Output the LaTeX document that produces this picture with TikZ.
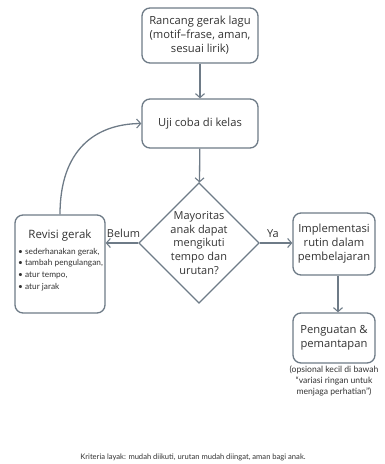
\documentclass[tikz,border=0pt]{standalone}
\usepackage{fontspec}
\setmainfont{Open Sans}
\newfontfamily\smallfont{Lato}
\usetikzlibrary{shapes.geometric,arrows.meta}
\definecolor{edge}{HTML}{6E7B87}
\definecolor{ink}{HTML}{333333}
\tikzset{
  box/.style={draw=edge,line width=1.3pt,rounded corners=8pt,fill=white,text=ink,align=center,inner sep=2pt,font=\fontsize{11.2}{14}\selectfont},
  conn/.style={draw=edge,line width=1.3pt,-{Straight Barb[length=4pt,width=9pt,line width=1.1pt]}},
  lbl/.style={text=ink,font=\fontsize{11}{13}\selectfont},
}
\begin{document}
\begin{tikzpicture}[x=1pt,y=-1pt]
\useasboundingbox (0,0) rectangle (385,464);
\node[box,minimum width=116pt,minimum height=55pt] (design) at (200,35.5) {Rancang gerak lagu\\(motif--frase, aman,\\sesuai lirik)};
\node[box,minimum width=116pt,minimum height=49pt] (trial) at (200,123.5) {Uji coba di kelas};
\node[draw=edge,line width=1.3pt,diamond,aspect=1,minimum width=118pt,minimum height=120pt,inner sep=0pt,text=ink,align=center,font=\fontsize{11}{13.8}\selectfont] (dec) at (199,243) {Mayoritas\\anak dapat\\mengikuti\\tempo dan\\urutan?};
\node[box,minimum width=90pt,minimum height=98pt] (rev) at (60,264) {};
\node[text=ink,font=\fontsize{11.5}{13}\selectfont] (revt) at (60,236) {Revisi gerak};
\node[text=ink,align=left,font=\smallfont\fontsize{8.3}{11.6}\selectfont,anchor=north west,inner sep=0pt] (revl) at (18,248) {• sederhanakan gerak,\\• tambah pengulangan,\\• atur tempo,\\• atur jarak};
\node[box,minimum width=82pt,minimum height=62pt] (impl) at (334,244) {Implementasi\\rutin dalam\\pembelajaran};
\node[box,minimum width=82pt,minimum height=50pt] (reinf) at (334,338) {Penguatan \&\\pemantapan};
\node[text=ink,align=center,font=\smallfont\fontsize{8.6}{11}\selectfont] (note) at (334,381) {(opsional kecil di bawah\\“variasi ringan untuk\\menjaga perhatian”)};
\node[text=ink,font=\smallfont\fontsize{7.6}{9}\selectfont] (crit) at (193,457) {Kriteria layak: mudah diikuti, urutan mudah diingat, aman bagi anak.};
\draw[conn] (design) -- (trial);
\draw[conn] (trial) -- (dec);
\draw[conn] (dec.west) -- node[lbl,above,pos=0.45,yshift=1pt] {Belum} (rev.east|-dec.west);
\draw[conn] (dec.east) -- node[lbl,above,pos=0.4,yshift=1pt] {Ya} (impl.west|-dec.east);
\draw[conn] (impl.south-|338,0) -- (reinf.north-|338,0);
\draw[conn] (rev.north) .. controls (60,150) and (95,124) .. (trial.west);
\end{tikzpicture}
\end{document}
